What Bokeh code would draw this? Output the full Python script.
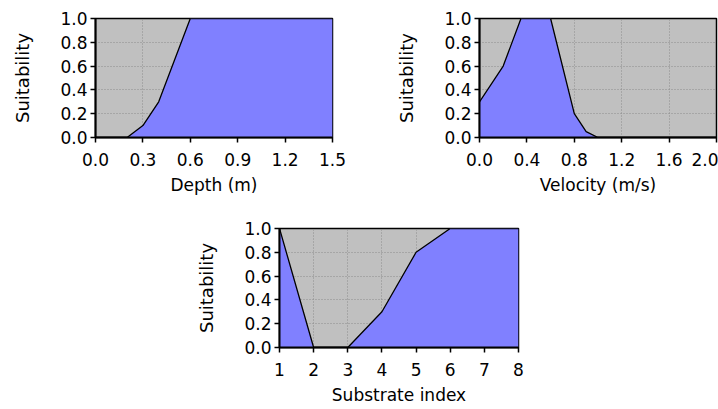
from bokeh.plotting import figure
from bokeh.layouts import column, row
from bokeh.models import Spacer, Range1d, FixedTicker, PrintfTickFormatter
from bokeh.embed import file_html
from bokeh.resources import INLINE

# ---- data ----
depth_x = [0.0, 0.2, 0.3, 0.4, 0.6, 1.5]
depth_y = [0.0, 0.0, 0.1, 0.3, 1.0, 1.0]
depth_ticks = [0.0, 0.3, 0.6, 0.9, 1.2, 1.5]

vel_x = [0.0, 0.2, 0.35, 0.6, 0.8, 0.9, 1.0, 2.0]
vel_y = [0.3, 0.6, 1.0, 1.0, 0.2, 0.05, 0.0, 0.0]
vel_ticks = [0.0, 0.4, 0.8, 1.2, 1.6, 2.0]

sub_x = [1, 2, 3, 4, 5, 6, 8]
sub_y = [1.0, 0.0, 0.0, 0.3, 0.8, 1.0, 1.0]
sub_ticks = [1, 2, 3, 4, 5, 6, 7, 8]

suit_ticks = [0.0, 0.2, 0.4, 0.6, 0.8, 1.0]

FONT = "DejaVu Sans"
TICK_FS = "17px"
XLAB_FS = "17px"
YLAB_FS = "18px"


def make(xs, ys, xticks, xfmt, xlabel, width, height, mbl, mbr, mbt, mbb):
    p = figure(width=width, height=height, output_backend="svg", toolbar_location=None,
               x_range=Range1d(xticks[0], xticks[-1]), y_range=Range1d(0, 1),
               min_border_left=mbl, min_border_right=mbr,
               min_border_top=mbt, min_border_bottom=mbb)
    p.background_fill_color = "#C0C0C0"
    p.border_fill_color = "white"
    p.outline_line_color = "black"
    p.outline_line_width = 1.5

    p.varea(x=xs, y1=[0] * len(xs), y2=ys, fill_color="#8080FF", fill_alpha=1.0)
    p.line(x=xs, y=ys, line_color="black", line_width=1.3)

    p.xaxis.ticker = FixedTicker(ticks=xticks)
    p.yaxis.ticker = FixedTicker(ticks=suit_ticks)
    p.xaxis.formatter = PrintfTickFormatter(format=xfmt)
    p.yaxis.formatter = PrintfTickFormatter(format="%.1f")
    p.xaxis.axis_label = xlabel
    p.yaxis.axis_label = "Suitability"

    for ax in (p.xaxis[0], p.yaxis[0]):
        ax.axis_line_color = "black"
        ax.axis_line_width = 2
        ax.major_tick_line_color = "black"
        ax.major_tick_line_width = 1.5
        ax.major_tick_out = 5
        ax.major_tick_in = 0
        ax.minor_tick_line_color = None
        ax.major_label_text_font = FONT
        ax.major_label_text_font_size = TICK_FS
        ax.major_label_text_color = "black"
        ax.axis_label_text_font = FONT
        ax.axis_label_text_font_style = "normal"
        ax.axis_label_text_color = "black"
    p.xaxis.axis_label_text_font_size = XLAB_FS
    p.yaxis.axis_label_text_font_size = YLAB_FS
    p.xaxis.major_label_standoff = 10
    p.xaxis.axis_label_standoff = 6
    p.yaxis.major_label_standoff = 3
    p.yaxis.axis_label_standoff = 24

    for g in (p.xgrid[0], p.ygrid[0]):
        g.grid_line_color = "#8C8C8C"
        g.grid_line_dash = "1 2"
        g.grid_line_width = 1
    p.xgrid.ticker = FixedTicker(ticks=xticks)
    p.ygrid.ticker = FixedTicker(ticks=suit_ticks)
    return p


p1 = make(depth_x, depth_y, depth_ticks, "%.1f", "Depth (m)", 352, 208, 95, 20, 18, 71)
p2 = make(vel_x, vel_y, vel_ticks, "%.1f", "Velocity (m/s)", 366, 208, 127, 2, 18, 71)
p3 = make(sub_x, sub_y, sub_ticks, "%d", "Substrate index", 360, 201, 101, 20, 20, 62)

layout = column(row(p1, p2), row(Spacer(width=178, height=201), p3))

open("out.html", "w").write(file_html(layout, INLINE))
